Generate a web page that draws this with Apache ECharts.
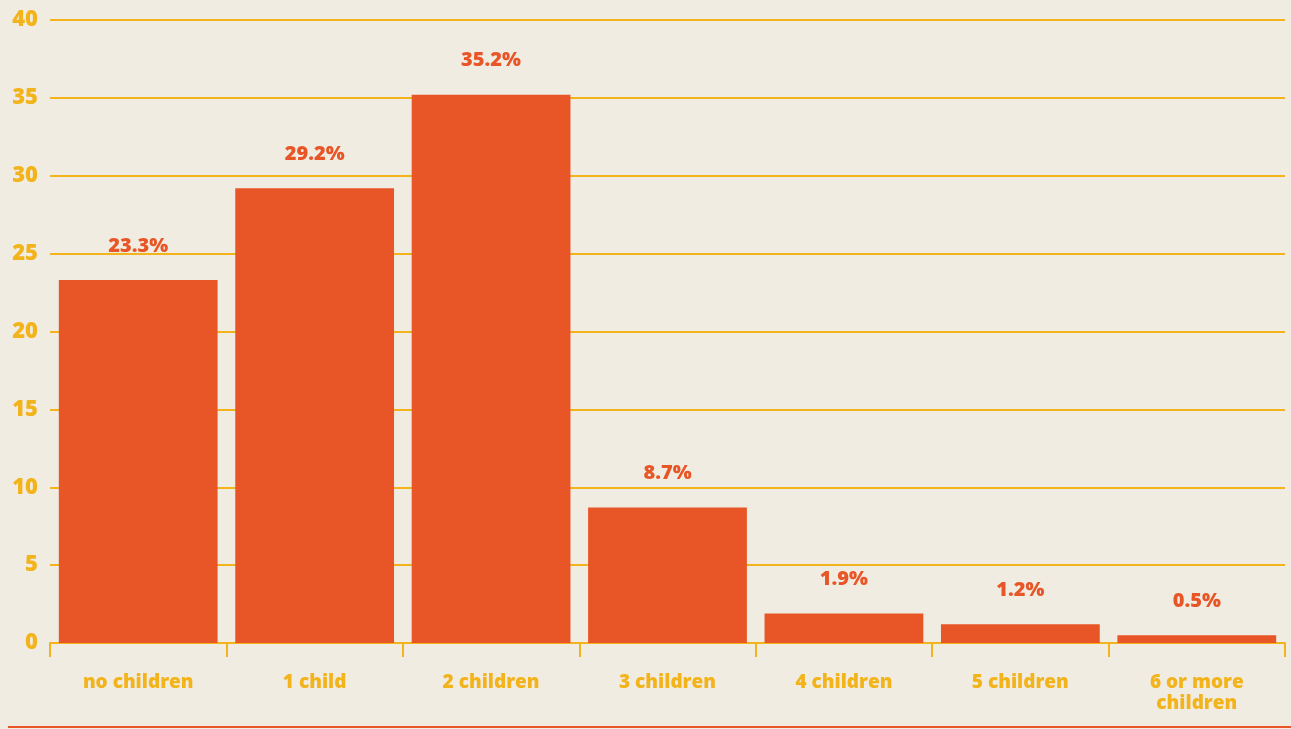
<!DOCTYPE html>
<html><head><meta charset="utf-8">
<script src="https://cdn.jsdelivr.net/npm/echarts@6/dist/echarts.min.js"></script>
<style>html,body{margin:0;padding:0;background:#f0ece2;}#c{width:1291px;height:729px;}</style>
</head><body><div id="c"></div>
<script>
const categories = ['no children', '1 child', '2 children', '3 children', '4 children', '5 children', '6 or more\nchildren'];
const values = [23.3, 29.2, 35.2, 8.7, 1.9, 1.2, 0.5];
const yTicks = [0, 5, 10, 15, 20, 25, 30, 35, 40];

const yellow = '#f2b31b';
const red = '#e85627';
const font = '"Open Sans", "DejaVu Sans", sans-serif';

const chart = echarts.init(document.getElementById('c'));
chart.setOption({
  backgroundColor: '#f0ece2',
  animation: false,
  grid: {left: 50, right: 6, top: 20, bottom: 86, containLabel: false},
  xAxis: {
    type: 'category',
    data: categories,
    axisLine: {lineStyle: {color: yellow, width: 2}},
    axisTick: {show: true, length: 14, lineStyle: {color: yellow, width: 2}},
    axisLabel: {color: yellow, fontFamily: font, fontWeight: 800, fontSize: 19, margin: 29, lineHeight: 21},
  },
  yAxis: {
    type: 'value',
    min: yTicks[0], max: yTicks[yTicks.length - 1], interval: 5,
    axisLine: {show: false},
    axisTick: {show: false},
    splitLine: {lineStyle: {color: yellow, width: 2}},
    axisLabel: {color: yellow, fontFamily: font, fontWeight: 800, fontSize: 22, margin: 12},
  },
  series: [{
    type: 'bar',
    data: values,
    barCategoryGap: '10%',
    itemStyle: {color: red},
    label: {
      show: true, position: 'top', distance: 24,
      color: red, fontFamily: font, fontWeight: 800, fontSize: 20,
      formatter: p => p.value.toFixed(1) + '%'
    }
  }],
  graphic: [{
    type: 'line', shape: {x1: 8, y1: 727, x2: 1291, y2: 727},
    style: {stroke: red, lineWidth: 2}
  }]
});
</script></body></html>
